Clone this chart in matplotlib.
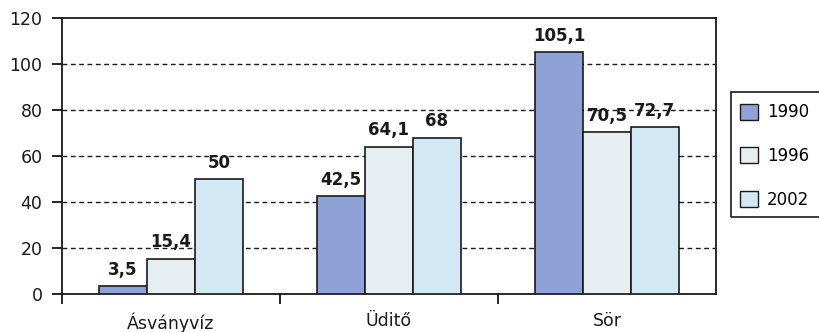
import matplotlib
matplotlib.use("Agg")
import matplotlib.pyplot as plt
import numpy as np
from matplotlib.patches import Rectangle, Patch

plt.rcParams['font.family'] = ['DejaVu Sans']

categories = ["Ásványvíz", "Üditő", "Sör"]
years = ["1990", "1996", "2002"]
values = {
    "1990": [3.5, 42.5, 105.1],
    "1996": [15.4, 64.1, 70.5],
    "2002": [50, 68, 72.7],
}
labels = {
    "1990": ["3,5", "42,5", "105,1"],
    "1996": ["15,4", "64,1", "70,5"],
    "2002": ["50", "68", "72,7"],
}
colors = {"1990": "#8fa2d8", "1996": "#e6eef2", "2002": "#d2e8f4"}
yticks = [0, 20, 40, 60, 80, 100, 120]

W, H = 820, 332
fig = plt.figure(figsize=(W/100, H/100), dpi=100)
ax = fig.add_axes([62/W, 1-294/H, (716-62)/W, (294-18)/H])

x = np.arange(len(categories))
bw = 0.22
for i, y in enumerate(years):
    pos = x + (i - 1) * bw
    bars = ax.bar(pos, values[y], bw, color=colors[y], edgecolor="#1a1a1a",
                  linewidth=1.2, zorder=3)
    for b, lab in zip(bars, labels[y]):
        ax.annotate(lab, (b.get_x() + b.get_width()/2, b.get_height()),
                    xytext=(0, 8), textcoords="offset points",
                    ha="center", va="baseline", fontsize=12, fontweight="bold",
                    color="#1a1a1a", zorder=4)

ax.set_xlim(-0.5, 2.5)
ax.set_ylim(0, 120)
ax.set_yticks(yticks)
ax.set_yticklabels([str(t) for t in yticks], fontsize=12.5, color="#1a1a1a")
for t in yticks[1:-1]:
    ax.axhline(t, color="#1a1a1a", linestyle=(0, (3.5, 2.5)), linewidth=1.0, zorder=1)

ax.set_xticks([-0.5, 0.5, 1.5])
ax.set_xticklabels([])
ax.set_xticks(x, minor=True)
ax.set_xticklabels(categories, minor=True, fontsize=12.5, color="#1a1a1a")
ax.tick_params(axis="x", which="major", direction="out", length=7, width=1.2)
ax.tick_params(axis="x", which="minor", length=0, pad=13)
ax.tick_params(axis="y", direction="out", length=7, width=1.2, pad=7)

for s in ax.spines.values():
    s.set_color("#1a1a1a")
    s.set_linewidth(1.3)

# legend
fig.patches.append(Rectangle((731/W, 1-217/H), 120/W, (217-92)/H,
                             transform=fig.transFigure, fill=False,
                             edgecolor="#1a1a1a", linewidth=1.2))
handles = [Patch(facecolor=colors[y], edgecolor="#1a1a1a", linewidth=1.0) for y in years]
fig.legend(handles, years, loc="center left", bbox_to_anchor=(728/W, 1-156/H),
           frameon=False, fontsize=12, handlelength=1.1, handleheight=1.1,
           labelspacing=1.55, handletextpad=0.55, borderpad=0.2)

fig.savefig("out.png", dpi=100)
